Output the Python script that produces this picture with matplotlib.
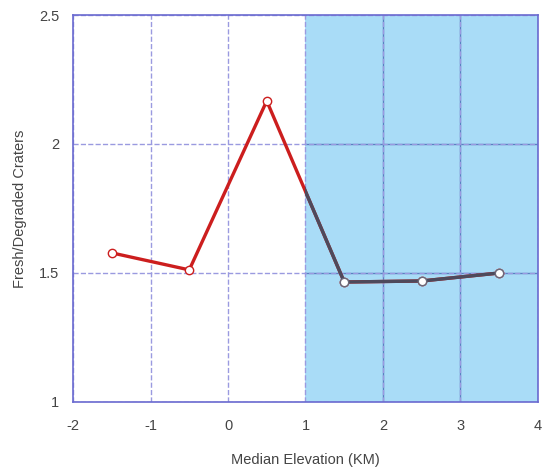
import matplotlib.pyplot as plt
import matplotlib.patches as mpatches

plt.rcParams['font.family'] = ['Liberation Sans', 'DejaVu Sans']
plt.rcParams['axes.unicode_minus'] = False

# Data
elevation = [-1.5, -0.5, 0.5, 1.5, 2.5, 3.5]
ratio = [1.578, 1.512, 2.167, 1.465, 1.469, 1.50]
x_ticks = [-2, -1, 0, 1, 2, 3, 4]
y_ticks = [1, 1.5, 2, 2.5]
y_tick_labels = ['1', '1.5', '2', '2.5']
shade_range = (1, 4)

fig = plt.figure(figsize=(5.42, 4.69), dpi=100)
ax = fig.add_axes([0.1347, 0.1429, 0.8579, 0.8251])

# shaded region
ax.axvspan(shade_range[0], shade_range[1], color='#a9dcf7', zorder=0, lw=0)

# grid
ax.set_xticks(x_ticks)
ax.set_yticks(y_ticks)
ax.set_yticklabels(y_tick_labels)
ax.grid(True, ls='--', color='#9a9ae0', lw=1, zorder=1)

# darker solid grid inside shaded area
for xt in [2, 3]:
    ax.axvline(xt, color='#5a82c0', lw=1, zorder=1.5)
for yt in [1.5, 2]:
    ax.plot([shade_range[0], shade_range[1]], [yt, yt], color='#5a82c0', lw=1, zorder=1.5)

# line: red outside the shade, dark inside it
ax.plot(elevation, ratio, color='#cc1e1e', lw=2.4, marker='o', ms=6,
        mfc='white', mec='#cc1e1e', mew=1, zorder=3)
dark = ax.plot(elevation, ratio, color='#4d4a5c', lw=2.4, marker='o', ms=6,
               mfc='white', mec='#6a6a7a', mew=1, zorder=4)[0]
clip = mpatches.Rectangle((shade_range[0], 0), shade_range[1] - shade_range[0], 5,
                          transform=ax.transData, visible=False)
ax.add_patch(clip)
dark.set_clip_path(clip)

ax.set_xlim(-2, 4)
ax.set_ylim(1, 2.5)

for s in ax.spines.values():
    s.set_color('#6a6ad0')
    s.set_linewidth(1.2)
ax.tick_params(axis='x', length=0, pad=12, labelsize=10.5, labelcolor='#444444')
ax.tick_params(axis='y', length=0, pad=10, labelsize=10.5, labelcolor='#444444')

ax.set_xlabel('Median Elevation (KM)', fontsize=10.5, color='#444444', va='center')
ax.set_ylabel('Fresh/Degraded Craters', fontsize=10.5, color='#444444', va='center')
ax.xaxis.set_label_coords(0.5, -0.150)
ax.yaxis.set_label_coords(-0.114, 0.5)

fig.savefig('out.png', dpi=100)
